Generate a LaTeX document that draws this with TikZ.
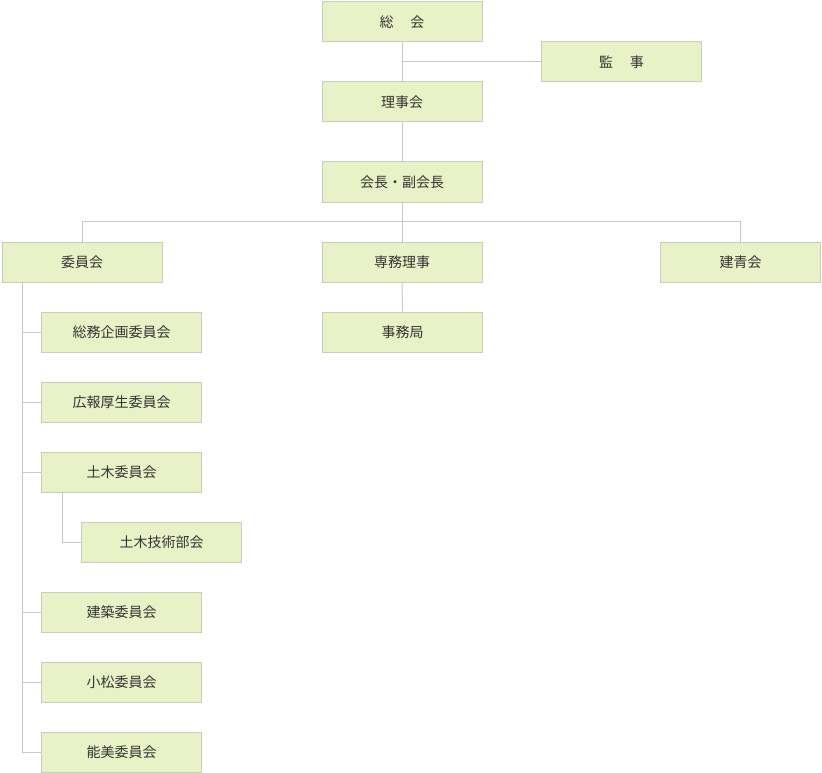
\documentclass[tikz,border=0pt]{standalone}
\usepackage{fontspec}
\setmainfont{Noto Sans CJK JP}
\usetikzlibrary{calc}
\definecolor{boxfill}{HTML}{E9F2C6}
\definecolor{boxline}{HTML}{C9CDBB}
\definecolor{linkline}{HTML}{C8C8C8}
\definecolor{txt}{HTML}{333333}
\tikzset{org/.style={draw=boxline,fill=boxfill,line width=1pt,minimum width=160pt,minimum height=40pt,inner sep=0pt,text=txt,font=\fontsize{14}{16}\selectfont},
  link/.style={draw=linkline,line width=1pt}}
\begin{document}
\begin{tikzpicture}[x=1pt,y=-1pt]
\useasboundingbox (0,0) rectangle (822,773);
\node[org] (sokai) at (402,22) {総\hspace{1.2em}会};
\node[org] (kanji) at (621.5,62) {監\hspace{1.2em}事};
\node[org] (rijikai) at (402,102) {理事会};
\node[org] (kaicho) at (402,182) {会長・副会長};
\node[org] (iinkai) at (82,262) {委員会};
\node[org] (senmu) at (402,262) {専務理事};
\node[org] (kensei) at (740.5,262) {建青会};
\node[org] (jimukyoku) at (402.5,332) {事務局};
\node[org] (somu) at (121.5,332) {総務企画委員会};
\node[org] (koho) at (121.5,402) {広報厚生委員会};
\node[org] (doboku) at (121.5,472) {土木委員会};
\node[org] (gijutsu) at (161.5,542) {土木技術部会};
\node[org] (kenchiku) at (121.5,612) {建築委員会};
\node[org] (komatsu) at (121.5,682) {小松委員会};
\node[org] (nomi) at (121.5,752) {能美委員会};
% top
\draw[link] (sokai) -- (rijikai);
\draw[link] (402,62) -- (kanji.west);
\draw[link] (rijikai) -- (kaicho);
% second row
\coordinate (split) at (402,221);
\draw[link] (kaicho.south) -- (split);
\draw[link] (split -| iinkai) -- (split -| kensei);
\draw[link] (split -| iinkai) -- (iinkai.north);
\draw[link] (split) -- (senmu.north);
\draw[link] (split -| kensei) -- (kensei.north);
\draw[link] (senmu) -- (jimukyoku);
% committees
\draw[link] (22,282) -- (22,752);
\foreach \n in {somu,koho,doboku,kenchiku,komatsu,nomi}
  \draw[link] (22,0 |- \n) -- (\n.west);
\draw[link] (62,492) -- (62,542) -- (gijutsu.west);
\end{tikzpicture}
\end{document}
